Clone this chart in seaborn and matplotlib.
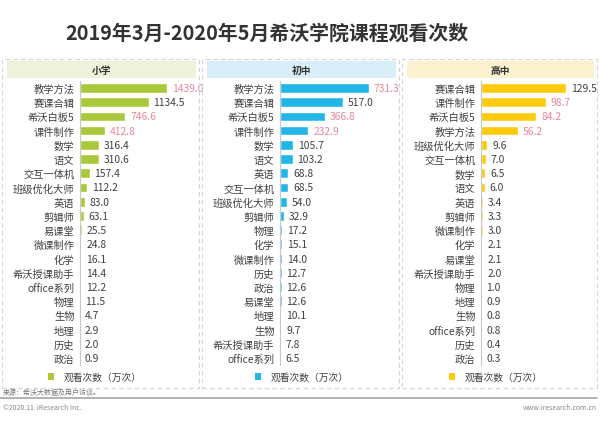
import matplotlib
matplotlib.use("Agg")
import matplotlib.pyplot as plt
from matplotlib.patches import Rectangle, Patch
import seaborn as sns
import pandas as pd

# ---------------- data ----------------
title = "2019年3月-2020年5月希沃学院课程观看次数"
panel_names = ["小学", "初中", "高中"]

primary_cats = ["教学方法", "赛课合辑", "希沃白板5", "课件制作", "数学", "语文", "交互一体机",
                "班级优化大师", "英语", "剪辑师", "易课堂", "微课制作", "化学", "希沃授课助手",
                "office系列", "物理", "生物", "地理", "历史", "政治"]
primary_vals = [1439.0, 1134.5, 746.6, 412.8, 316.4, 310.6, 157.4, 112.2, 83.0, 63.1, 25.5,
                24.8, 16.1, 14.4, 12.2, 11.5, 4.7, 2.9, 2.0, 0.9]

middle_cats = ["教学方法", "赛课合辑", "希沃白板5", "课件制作", "数学", "语文", "英语", "交互一体机",
               "班级优化大师", "剪辑师", "物理", "化学", "微课制作", "历史", "政治", "易课堂",
               "地理", "生物", "希沃授课助手", "office系列"]
middle_vals = [731.3, 517.0, 366.8, 232.9, 105.7, 103.2, 68.8, 68.5, 54.0, 32.9, 17.2, 15.1,
               14.0, 12.7, 12.6, 12.6, 10.1, 9.7, 7.8, 6.5]

high_cats = ["赛课合辑", "课件制作", "希沃白板5", "教学方法", "班级优化大师", "交互一体机", "数学",
             "语文", "英语", "剪辑师", "微课制作", "化学", "易课堂", "希沃授课助手", "物理",
             "地理", "生物", "office系列", "历史", "政治"]
high_vals = [129.5, 98.7, 84.2, 56.2, 9.6, 7.0, 6.5, 6.0, 3.4, 3.3, 3.0, 2.1, 2.1, 2.0, 1.0,
             0.9, 0.8, 0.8, 0.4, 0.3]

highlight = ["教学方法", "希沃白板5", "课件制作"]
legend_label = "观看次数（万次）"
source_text = "来源：希沃大数据及用户访谈。"
footer_left = "©2020.11  iResearch Inc."
footer_right = "www.iresearch.com.cn"

bar_colors = ["#a9c83a", "#22b6e8", "#ffc90c"]
header_colors = ["#eef2da", "#d8eff9", "#fdf2d0"]

# ---------------- style ----------------
sns.set_style("white")
plt.rcParams["font.family"] = ["Noto Sans CJK SC", "DejaVu Sans"]

W, H = 600, 427
fig = plt.figure(figsize=(6, 4.27), dpi=100)
fig.patch.set_facecolor("white")

def fx(px):
    return px / W

def fy(py):
    return 1 - py / H

# title
fig.text(fx(267), fy(33), title, ha="center", va="center", fontsize=14.3,
         fontweight="bold", color="#333333")

panels = [
    (primary_cats, primary_vals, 80, 87, (2, 199), 95),
    (middle_cats, middle_vals, 280, 89, (202, 399), 302),
    (high_cats, high_vals, 481, 85, (402, 597), 496),
]

row_top, row_bot = 89, 359
step = (row_bot - row_top) / 19
ax_top = row_top - step / 2
ax_bot = row_bot + step / 2

for i, (cats, vals, x0, wpx, (bx0, bx1), leg_cx) in enumerate(panels):
    # dashed panel box
    fig.patches.append(Rectangle((fx(bx0), fy(389)), fx(bx1 - bx0), (389 - 60) / H,
                                 transform=fig.transFigure, fill=False,
                                 edgecolor="#d4d4d4", linewidth=0.8,
                                 linestyle=(0, (4, 3)), zorder=0))
    # header band
    fig.patches.append(Rectangle((fx(bx0 + 5), fy(79)), fx(bx1 - bx0 - 8), 17 / H,
                                 transform=fig.transFigure, facecolor=header_colors[i],
                                 edgecolor="none", zorder=1))
    fig.text(fx((bx0 + bx1) / 2 + 1), fy(70.5), panel_names[i], ha="center", va="center",
             fontsize=7, fontweight="bold", color="#333333")

    ax = fig.add_axes([fx(x0), fy(ax_bot), fx(wpx), (ax_bot - ax_top) / H])
    df = pd.DataFrame({"cat": cats, "val": vals})
    sns.barplot(data=df, x="val", y="cat", orient="h", color=bar_colors[i],
                width=0.68, ax=ax, saturation=1)
    ax.set_xlim(0, max(vals))
    ax.set_ylim(len(cats) - 0.5, -0.5)
    ax.set_xlabel("")
    ax.set_ylabel("")
    ax.set_xticks([])
    for s in ["top", "right", "bottom"]:
        ax.spines[s].set_visible(False)
    ax.spines["left"].set_color("#c8c8c8")
    ax.spines["left"].set_linewidth(0.8)
    ax.tick_params(axis="y", length=0, pad=4, labelsize=7.4, labelcolor="#404040")
    ax.set_facecolor("none")
    ax.patch.set_alpha(0)

    for j, (c, v) in enumerate(zip(cats, vals)):
        col = "#e8879a" if c in highlight else "#404040"
        ax.annotate(f"{v:.1f}", xy=(v, j), xytext=(3.5, 0), textcoords="offset points",
                    ha="left", va="center", fontsize=7.4, color=col,
                    annotation_clip=False)

    ax.legend(handles=[Patch(facecolor=bar_colors[i], edgecolor="none")],
              labels=[legend_label], loc="center",
              bbox_to_anchor=(fx(leg_cx), fy(378)), bbox_transform=fig.transFigure,
              frameon=False, fontsize=7, handlelength=0.6, handleheight=0.6,
              handletextpad=1.0, labelcolor="#404040")

# source & footer
fig.text(fx(3), fy(393), source_text, ha="left", va="center", fontsize=5, color="#777777")
fig.add_artist(plt.Line2D([0, fx(597)], [fy(398.5), fy(398.5)], transform=fig.transFigure,
                          color="#a6a6a6", linewidth=1.2))
fig.text(fx(3), fy(408), footer_left, ha="left", va="center", fontsize=5, color="#888888")
fig.text(fx(597), fy(408), footer_right, ha="right", va="center", fontsize=5, color="#888888")

fig.savefig("out.png", dpi=100, facecolor="white")
